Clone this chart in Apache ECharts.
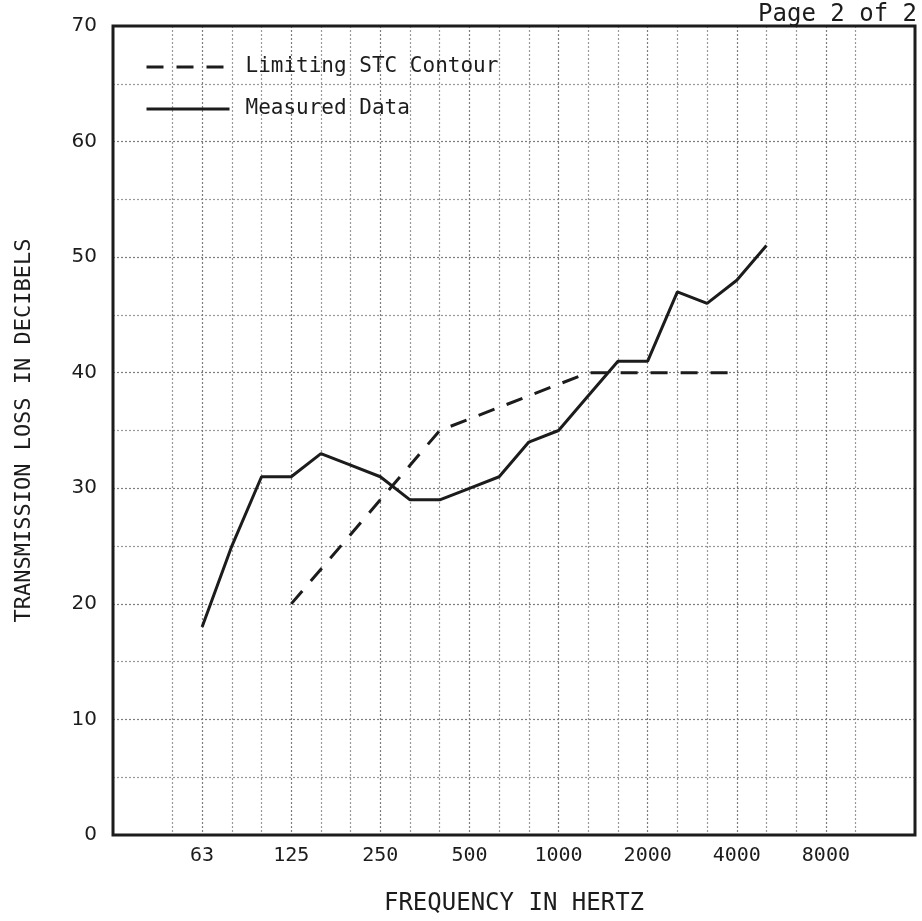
<!DOCTYPE html>
<html>
<head>
<meta charset="utf-8">
<script src="https://cdn.jsdelivr.net/npm/echarts@6/dist/echarts.min.js"></script>
<style>html,body{margin:0;padding:0;background:#fff;}#chart{width:922px;height:921px;}</style>
</head>
<body>
<div id="chart"></div>
<script>
// One-third octave bands spanning the plot (left edge 31.5 Hz, right edge 16000 Hz)
var bandLabels = ['31.5','40','50','63','80','100','125','160','200','250','315','400','500','630','800','1000','1250','1600','2000','2500','3150','4000','5000','6300','8000','10000','12500','16000'];
var octaveLabels = ['63','125','250','500','1000','2000','4000','8000'];
var gridBands = ['50','63','80','100','125','160','200','250','315','400','500','630','800','1000','1250','1600','2000','2500','3150','4000','5000','6300','8000','10000'];

var measuredFreq = ['63','80','100','125','160','200','250','315','400','500','630','800','1000','1250','1600','2000','2500','3150','4000','5000'];
var measuredTL   = [18, 25, 31, 31, 33, 32, 31, 29, 29, 30, 31, 34, 35, 38, 41, 41, 47, 46, 48, 51];

var stcFreq = ['125','160','200','250','315','400','500','630','800','1000','1250','1600','2000','2500','3150','4000'];
var stcTL   = [20, 23, 26, 29, 32, 35, 36, 37, 38, 39, 40, 40, 40, 40, 40, 40];

var yTickLabels = ['0','10','20','30','40','50','60','70'];

function pairs(freqs, vals) {
  return freqs.map(function (f, i) { return [bandLabels.indexOf(f), vals[i]]; });
}

var mono = '"DejaVu Sans Mono", "Liberation Mono", monospace';
var ink = '#1c1c1c';
var clear = 'rgba(0,0,0,0)';

// split line colours per tick index
var xLineColors = bandLabels.map(function (b) {
  if (gridBands.indexOf(b) < 0) return clear;
  return octaveLabels.indexOf(b) >= 0 ? '#7d7d7d' : '#999999';
});
var yLineColors = [];
for (var v = 0; v <= 70; v += 5) {
  if (v === 0 || v === 70) yLineColors.push(clear);
  else yLineColors.push(v % 10 === 0 ? '#7d7d7d' : '#999999');
}

var chart = echarts.init(document.getElementById('chart'), null, {renderer: 'canvas'});
chart.setOption({
  backgroundColor: '#fff',
  animation: false,
  grid: {
    left: 113, right: 7, top: 26, bottom: 86,
    show: true, borderColor: ink, borderWidth: 3, backgroundColor: 'transparent', z: 10
  },
  graphic: [{
    type: 'text', right: 5, top: 3,
    style: { text: 'Page 2 of 2', font: '24px ' + mono, fill: ink }
  }],
  legend: {
    orient: 'vertical', left: 145, top: 55, padding: 0,
    itemWidth: 83, itemHeight: 14, itemGap: 18,
    itemStyle: { opacity: 0, color: clear, borderWidth: 0 },
    lineStyle: { width: 3 },
    textStyle: { fontFamily: mono, fontSize: 21, color: ink, lineHeight: 24, padding: [0, 0, 0, 11] },
    data: ['Limiting STC Contour', 'Measured Data']
  },
  xAxis: {
    type: 'value', min: 0, max: bandLabels.length - 1, interval: 1,
    name: 'FREQUENCY IN HERTZ', nameLocation: 'middle', nameGap: 57,
    nameTextStyle: { fontFamily: mono, fontSize: 24, color: ink },
    axisLine: { show: false }, axisTick: { show: false },
    axisLabel: {
      margin: 11, fontFamily: mono, fontSize: 20, color: ink,
      formatter: function (val) {
        var b = bandLabels[Math.round(val)];
        return octaveLabels.indexOf(b) >= 0 ? b : '';
      }
    },
    splitLine: { show: true, lineStyle: { color: xLineColors, type: [2, 2], width: 1.2 } }
  },
  yAxis: {
    type: 'value', min: 0, max: 70, interval: 5,
    name: 'TRANSMISSION LOSS IN DECIBELS', nameLocation: 'middle', nameGap: 78, nameRotate: 90,
    nameTextStyle: { fontFamily: mono, fontSize: 22, color: ink },
    axisLine: { show: false }, axisTick: { show: false },
    axisLabel: {
      margin: 16, fontFamily: '"DejaVu Sans", Verdana, sans-serif', fontSize: 20, color: ink,
      formatter: function (val) {
        var s = String(val);
        return yTickLabels.indexOf(s) >= 0 ? s : '';
      }
    },
    splitLine: { show: true, lineStyle: { color: yLineColors, type: [2, 2], width: 1.2 } }
  },
  series: [{
    name: 'Limiting STC Contour', type: 'line', symbol: 'none', z: 5,
    data: pairs(stcFreq, stcTL),
    lineStyle: { color: ink, width: 3, type: [17, 13] },
    itemStyle: { color: clear }
  }, {
    name: 'Measured Data', type: 'line', symbol: 'none', z: 6,
    data: pairs(measuredFreq, measuredTL),
    lineStyle: { color: ink, width: 3 },
    itemStyle: { color: clear }
  }]
});
</script>
</body>
</html>
